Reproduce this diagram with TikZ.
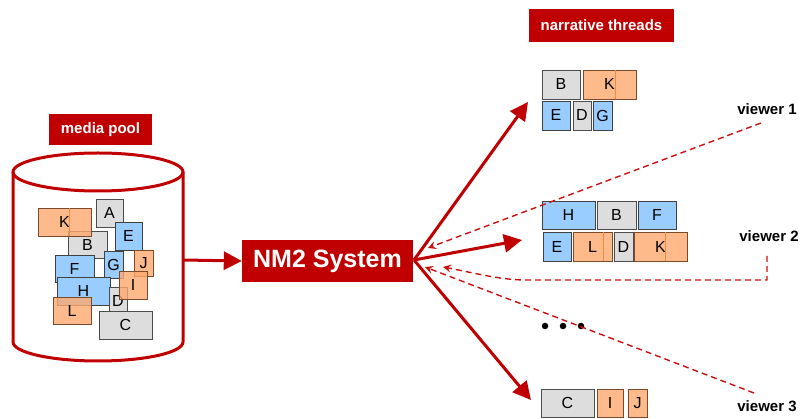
\documentclass[tikz,border=0pt]{standalone}
\usepackage{fontspec}
\setmainfont{Liberation Sans}
\usetikzlibrary{arrows.meta}
\definecolor{dred}{HTML}{C00000}
\definecolor{dashred}{HTML}{CC1010}
\definecolor{gfill}{HTML}{DDDDDD}
\definecolor{bfill}{HTML}{99CCFF}
\definecolor{ofill}{HTML}{FFA96F}
\definecolor{ostroke}{HTML}{7A4A2A}
\definecolor{seamc}{HTML}{F58A3A}
\newcommand\blk[7]{%
  \node[#6, minimum width={(#4-#2)*1pt}, minimum height={(#5-#3)*1pt}] (#1) at ({(#2+#4)/2},{(#3+#5)/2}) {#7};}
\tikzset{
  cell/.style={draw, line width=0.9pt, inner sep=0pt, outer sep=0pt, font=\fontsize{16}{19}\selectfont},
  gbox/.style={cell, draw=black!70, fill=gfill},
  bbox/.style={cell, draw=black!75, fill=bfill},
  obox/.style={cell, draw=ostroke, fill=ofill, fill opacity=0.8, text opacity=1},
  seam/.style={draw=seamc, line width=0.6pt},
  title/.style={fill=dred, text=white, font=\bfseries\fontsize{15}{18}\selectfont, inner sep=0pt},
  vlabel/.style={font=\bfseries\fontsize{15}{18}\selectfont, inner sep=0pt},
  redarrow/.style={draw=dred, line width=3pt, -{Triangle[length=18pt,width=18pt]}},
  dasharrow/.style={draw=dashred, line width=1.4pt, dash pattern=on 6pt off 4pt, -{Stealth[length=8pt,width=8pt,inset=3pt]}},
  dotnode/.style={circle, fill=black, inner sep=0pt, minimum size=6.5pt}
}
\begin{document}
\begin{tikzpicture}[x=1pt,y=-1pt]
\useasboundingbox (0,0) rectangle (804,419);
% titles
\node[title, minimum width=103pt, minimum height=31pt] (mp) at (100.5,129.5) {media pool};
\node[title, minimum width=145pt, minimum height=33pt] (nt) at (601.5,25.5) {narrative threads};
% cylinder
\draw[dred, line width=3pt, fill=white] (13,172) -- (13,342) arc[start angle=180, end angle=360, x radius=85, y radius=-19] -- (183,172);
\draw[dred, line width=3pt] (98,172) ellipse[x radius=85, y radius=19];
\coordinate (poolR) at (183,260);
% pool boxes
\blk{pA}{96}{199}{123}{227}{gbox}{A}
\blk{pB}{68}{231}{107}{258}{gbox}{B}
\blk{pE}{115}{222}{142}{250}{bbox}{E}
\blk{pF}{55}{255}{94}{282}{bbox}{F}
\blk{pG}{104}{251}{123}{278}{bbox}{G}
\blk{pH}{57}{277}{110}{305}{bbox}{H}
\blk{pD}{109}{287}{127}{314}{gbox}{D}
\blk{pC}{99}{311}{152}{339}{gbox}{C}
\blk{pK}{38}{208}{91}{236}{obox}{K}
\draw[seam] ([xshift=31pt]pK.north west) -- ([xshift=31pt]pK.south west);
\blk{pJ}{134}{250}{153}{276}{obox}{J}
\blk{pI}{119}{271}{147}{299}{obox}{I}
\blk{pL}{53}{297}{91}{324}{obox}{L}
% NM2 system
\node[fill=dred, text=white, font=\bfseries\fontsize{25}{30}\selectfont, minimum width=171pt, minimum height=42pt, inner sep=0pt] (nm2) at (327.5,261) {NM2 System};
\draw[redarrow] (poolR) -- (nm2.west);
% thread 1
\blk{aB}{542}{70}{580}{99}{gbox}{B}
\blk{aK}{583}{70}{636}{99}{obox}{K}
\draw[seam] ([xshift=32pt]aK.north west) -- ([xshift=32pt]aK.south west);
\blk{aE}{542}{101}{570}{130}{bbox}{E}
\blk{aD}{573}{101}{591}{130}{gbox}{D}
\blk{aG}{593}{101}{612}{130}{bbox}{G}
% thread 2
\blk{bH}{542}{201}{595}{229}{bbox}{H}
\blk{bB}{597}{201}{636}{229}{gbox}{B}
\blk{bF}{638}{201}{676}{229}{bbox}{F}
\blk{bE}{543}{232}{571}{261}{bbox}{E}
\blk{bL}{573}{232}{612}{261}{obox}{L}
\draw[seam] ([xshift=30pt]bL.north west) -- ([xshift=30pt]bL.south west);
\blk{bD}{614}{232}{633}{261}{gbox}{D}
\blk{bK}{634}{232}{687}{261}{obox}{K}
\draw[seam] ([xshift=31pt]bK.north west) -- ([xshift=31pt]bK.south west);
% thread 3
\blk{cC}{541}{389}{594}{417}{gbox}{C}
\blk{cI}{597}{389}{623}{417}{obox}{I}
\blk{cJ}{628}{389}{647}{417}{obox}{J}
% output arrows
\coordinate (hub) at (414,260);
\coordinate (t1) at (528,102);
\coordinate (t2) at (522,240);
\coordinate (t3) at (531,400);
\draw[redarrow] (hub) -- (t1);
\draw[redarrow] (hub) -- (t2);
\draw[redarrow] (hub) -- (t3);
% dots
\node[dotnode] (d1) at (545,326) {};
\node[dotnode] (d2) at (563,326) {};
\node[dotnode] (d3) at (581,326) {};
% viewers
\node[vlabel] (v1) at (767,109) {viewer 1};
\node[vlabel] (v2) at (769,236) {viewer 2};
\node[vlabel] (v3) at (767,406) {viewer 3};
\coordinate (v1s) at (761,123);
\coordinate (v1e) at (428,248);
\coordinate (v2s) at (767,256);
\coordinate (v2a) at (767,280);
\coordinate (v2b) at (525,280);
\coordinate (v2e) at (443,267);
\coordinate (v3s) at (754,393);
\coordinate (v3e) at (425,267);
\draw[dasharrow] (v1s) -- (v1e);
\draw[dasharrow] (v2s) -- (v2a) -- (v2b) .. controls (500,280) and (470,272) .. (v2e);
\draw[dasharrow] (v3s) -- (v3e);
\end{tikzpicture}
\end{document}
